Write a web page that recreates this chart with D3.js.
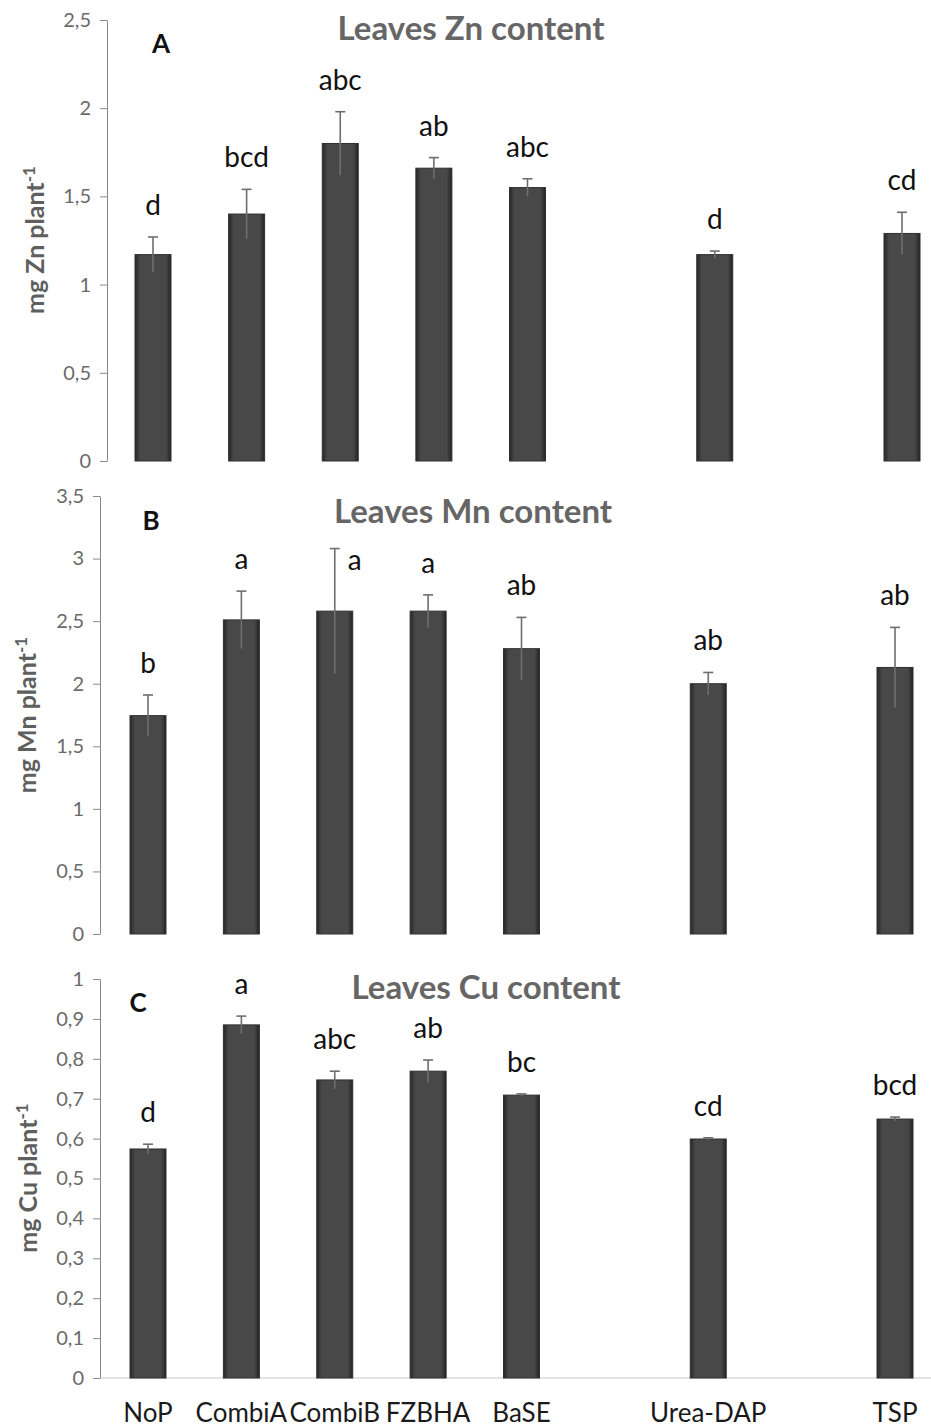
<!DOCTYPE html>
<html>
<head>
<meta charset="utf-8">
<script src="https://cdn.jsdelivr.net/npm/d3@7"></script>
<style>
  body { margin: 0; background: #fff; }
  svg { display: block; font-family: Lato, "Open Sans", sans-serif; }
</style>
</head>
<body>
<svg id="chart" width="931" height="1428"></svg>
<script>
// treatments, with two empty slots in the category axis
const categories = ["NoP", "CombiA", "CombiB", "FZBHA", "BaSE", "Urea-DAP", "TSP"];
const slots = ["NoP", "CombiA", "CombiB", "FZBHA", "BaSE", "gap1", "Urea-DAP", "gap2", "TSP"];

const znMean = [1.17, 1.40, 1.80, 1.66, 1.55, 1.17, 1.29];
const znErr = [0.10, 0.14, 0.18, 0.06, 0.05, 0.02, 0.12];
const znLetters = ["d", "bcd", "abc", "ab", "abc", "d", "cd"];
const znTicks = [0, 0.5, 1, 1.5, 2, 2.5];

const mnMean = [1.745, 2.51, 2.58, 2.58, 2.28, 2.00, 2.13];
const mnErr = [0.165, 0.23, 0.50, 0.13, 0.25, 0.09, 0.32];
const mnLetters = ["b", "a", "a", "a", "ab", "ab", "ab"];
const mnTicks = [0, 0.5, 1, 1.5, 2, 2.5, 3, 3.5];

const cuMean = [0.574, 0.885, 0.747, 0.769, 0.709, 0.599, 0.649];
const cuErr = [0.012, 0.022, 0.022, 0.028, 0.003, 0.003, 0.005];
const cuLetters = ["d", "a", "abc", "ab", "bc", "cd", "bcd"];
const cuTicks = [0, 0.1, 0.2, 0.3, 0.4, 0.5, 0.6, 0.7, 0.8, 0.9, 1];

const panels = [
  { tag: "A", title: "Leaves Zn content", el: "Zn", mean: znMean, err: znErr, letters: znLetters, ticks: znTicks,
    axisX: 107, top: 20, bottom: 461, xr: [153, 902], titleX: 471, titleY: 40, tagX: 161, tagY: 53, labX: 35, labY: 240, baseline: false },
  { tag: "B", title: "Leaves Mn content", el: "Mn", mean: mnMean, err: mnErr, letters: mnLetters, ticks: mnTicks,
    axisX: 100, top: 496, bottom: 934, xr: [148, 895], titleX: 473, titleY: 523, tagX: 151, tagY: 530, labX: 27, labY: 715, baseline: false },
  { tag: "C", title: "Leaves Cu content", el: "Cu", mean: cuMean, err: cuErr, letters: cuLetters, ticks: cuTicks,
    axisX: 100, top: 979, bottom: 1378, xr: [148, 895], titleX: 486, titleY: 999, tagX: 138, tagY: 1012, labX: 28, labY: 1178, baseline: true }
];

const locale = d3.formatLocale({ decimal: ",", thousands: ".", grouping: [3], currency: ["", ""] });
const fmt = locale.format(".1~f");
const barW = 36;

const svg = d3.select("#chart");
const defs = svg.append("defs");
const grad = defs.append("linearGradient").attr("id", "barGrad");
grad.append("stop").attr("offset", "0%").attr("stop-color", "#262626");
grad.append("stop").attr("offset", "14%").attr("stop-color", "#484848");
grad.append("stop").attr("offset", "86%").attr("stop-color", "#484848");
grad.append("stop").attr("offset", "100%").attr("stop-color", "#222");

panels.forEach(p => {
  const g = svg.append("g");
  const rows = categories.map((c, i) => ({ cat: c, mean: p.mean[i], err: p.err[i], letter: p.letters[i] }));

  const x = d3.scalePoint().domain(slots).range(p.xr);
  const y = d3.scaleLinear()
    .domain([0, d3.max(p.ticks)])
    .range([p.bottom, p.top]);

  if (p.baseline) {
    g.append("line")
      .attr("x1", p.axisX).attr("x2", 931)
      .attr("y1", y(0)).attr("y2", y(0))
      .attr("stroke", "#c8c8c8");
  }

  const axis = g.append("g")
    .attr("transform", `translate(${p.axisX},0)`)
    .call(d3.axisLeft(y).tickValues(p.ticks).tickFormat(fmt).tickSize(7).tickSizeOuter(0).tickPadding(9));
  axis.select(".domain").attr("stroke", "#8a8a8a");
  axis.selectAll(".tick line").attr("stroke", "#8a8a8a");
  axis.selectAll(".tick text").attr("fill", "#6a6a6a").attr("font-size", 20).attr("font-family", "Lato, sans-serif");

  // bars
  g.append("g").selectAll("rect")
    .data(rows)
    .join("rect")
    .attr("x", d => x(d.cat) - barW / 2)
    .attr("y", d => y(d.mean))
    .attr("width", barW)
    .attr("height", d => y(0) - y(d.mean))
    .attr("fill", "url(#barGrad)")
    .attr("stroke", "#303030")
    .attr("stroke-width", 1);

  // error bars
  const eb = g.append("g").attr("stroke", "#6e6e6e").attr("stroke-width", 1.6);
  eb.selectAll(".stem")
    .data(rows)
    .join("line")
    .attr("x1", d => x(d.cat)).attr("x2", d => x(d.cat))
    .attr("y1", d => y(d.mean - d.err)).attr("y2", d => y(d.mean + d.err));
  eb.selectAll(".cap")
    .data(rows)
    .join("line")
    .attr("x1", d => x(d.cat) - 5).attr("x2", d => x(d.cat) + 5)
    .attr("y1", d => y(d.mean + d.err)).attr("y2", d => y(d.mean + d.err));

  // title and panel tag
  const title = g.append("text")
    .attr("x", p.titleX).attr("y", p.titleY)
    .attr("text-anchor", "middle")
    .attr("font-size", 33).attr("font-weight", "bold")
    .attr("fill", "#666")
    .text(p.title);
  g.append("text")
    .attr("x", p.tagX).attr("y", p.tagY)
    .attr("text-anchor", "middle")
    .attr("font-size", 26).attr("font-weight", "bold")
    .attr("fill", "#111")
    .text(p.tag);

  // significance letters; a letter that would run into the title goes beside its error bar
  const tb = title.node().getBBox();
  const hitsTitle = d => {
    const ly = y(d.mean + d.err) - 22;
    return ly - 20 < tb.y + tb.height && x(d.cat) + 20 > tb.x && x(d.cat) - 20 < tb.x + tb.width;
  };
  g.append("g").selectAll("text")
    .data(rows)
    .join("text")
    .attr("x", d => hitsTitle(d) ? x(d.cat) + 20 : x(d.cat))
    .attr("y", d => hitsTitle(d) ? tb.y + tb.height + 40 : y(d.mean + d.err) - 22)
    .attr("text-anchor", "middle")
    .attr("font-size", 28)
    .attr("fill", "#111")
    .text(d => d.letter);

  // y axis label
  const lab = g.append("text")
    .attr("transform", `translate(${p.labX},${p.labY}) rotate(-90)`)
    .attr("text-anchor", "middle")
    .attr("dy", "0.35em")
    .attr("font-size", 25).attr("font-weight", "bold")
    .attr("fill", "#5f5f5f");
  lab.append("tspan").text(`mg ${p.el} plant`);
  lab.append("tspan").attr("dy", "-0.5em").attr("font-size", 17).text("-1");

  // category labels only under the last panel
  if (p.baseline) {
    g.append("g").selectAll("text")
      .data(categories)
      .join("text")
      .attr("x", d => x(d))
      .attr("y", 1422)
      .attr("text-anchor", "middle")
      .attr("font-size", 26)
      .attr("fill", "#1a1a1a")
      .text(d => d);
  }
});
</script>
</body>
</html>
